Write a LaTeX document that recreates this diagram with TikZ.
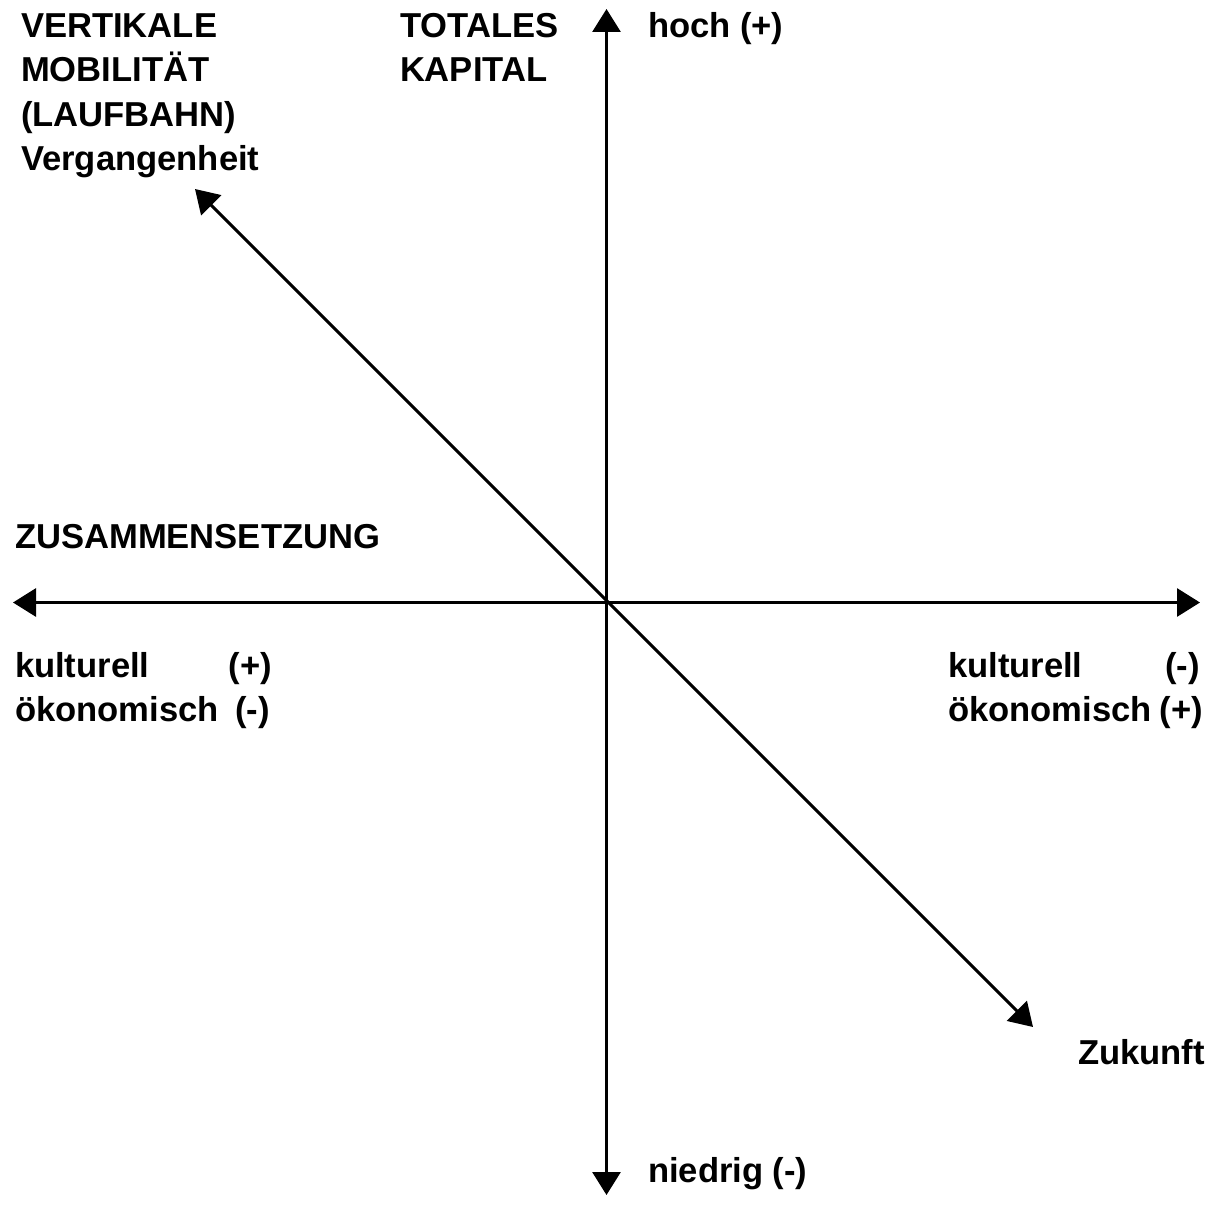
\documentclass[tikz,border=0pt]{standalone}
\usepackage{fontspec}
\setmainfont{Liberation Sans}
\usetikzlibrary{arrows.meta}

\begin{document}
\begin{tikzpicture}[x=1pt,y=-1pt,
  axis/.style={line width=3pt,
    {Triangle[length=23pt,width=28pt]}-{Triangle[length=23pt,width=28pt]}},
  lbl/.style={font=\fontsize{34.6}{44}\selectfont\bfseries, inner sep=0pt, outer sep=0pt},
  lw/.style={lbl, anchor=base west},
  le/.style={lbl, anchor=base east}]
\useasboundingbox[fill=white] (0,0) rectangle (1214,1204);

% axis end points
\coordinate (O)      at (606.5,602.5);
\coordinate (top)    at (606.5,9);
\coordinate (bottom) at (606.5,1195);
\coordinate (left)   at (13,602.5);
\coordinate (right)  at (1200,602.5);
\coordinate (past)   at (195,189);
\coordinate (future) at (1033,1027);

\draw[axis] (bottom) -- (top);
\draw[axis] (left) -- (right);
\draw[axis] (future) -- (past);

% labels of the vertical axis
\node[lw] (tot1) at (400,38) {TOTALES};
\node[lw] (tot2) at (400,82) {KAPITAL};
\node[lw] (hoch) at (648,38) {hoch (+)};
\node[lw] (niedrig) at (648,1182) {niedrig (-)};

% labels of the diagonal
\node[lw] (vm1) at (21,38) {VERTIKALE};
\node[lw] (vm2) at (21,82) {MOBILITÄT};
\node[lw] (vm3) at (21,126) {(LAUFBAHN)};
\node[lw] (vm4) at (21,170) {Vergangenheit};
\node[le] (zuk) at (1205,1064) {Zukunft};

% labels of the horizontal axis
\node[lw] (zus) at (15,548) {ZUSAMMENSETZUNG};
\node[lw] (lk) at (15,677) {kulturell};
\node[le] (lkv) at (272,677) {(+)};
\node[lw] (lo) at (15,721) {ökonomisch};
\node[le] (lov) at (270,721) {(-)};
\node[lw] (rk) at (948,677) {kulturell};
\node[le] (rkv) at (1200,677) {(-)};
\node[lw] (ro) at (948,721) {ökonomisch};
\node[le] (rov) at (1203,721) {(+)};
\end{tikzpicture}
\end{document}
